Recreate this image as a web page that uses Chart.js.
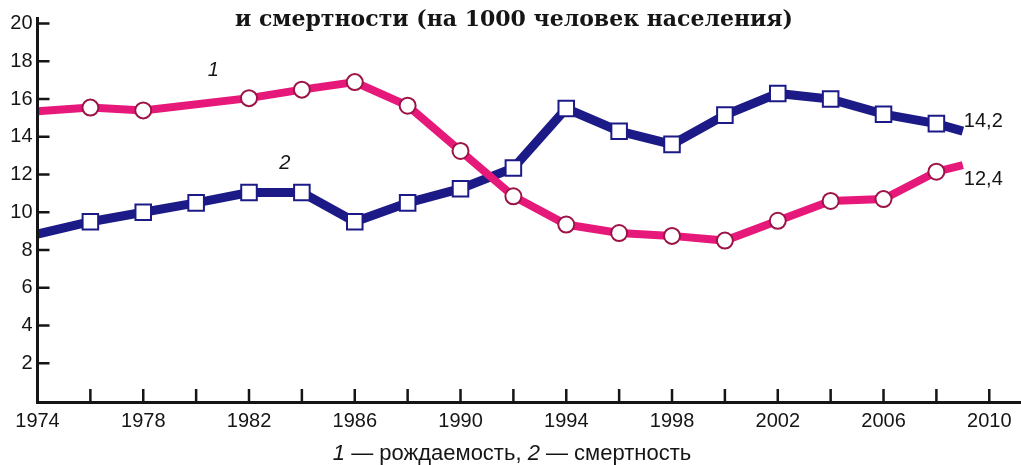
<!DOCTYPE html>
<html>
<head>
<meta charset="utf-8">
<script src="https://cdn.jsdelivr.net/npm/chart.js@4.4.1/dist/chart.umd.min.js"></script>
<style>
  html, body { margin: 0; padding: 0; background: #fff; }
  #wrap { width: 1021px; height: 465px; position: relative; }
</style>
</head>
<body>
<div id="wrap"><canvas id="myChart" width="1021" height="465"></canvas></div>
<script>
// 1 - рождаемость (birth rate), 2 - смертность (death rate), per 1000
const years_birth = [1974, 1976, 1978, 1982, 1984, 1986, 1988, 1990, 1992, 1994,
    1996, 1998, 2000, 2002, 2004, 2006, 2008, 2009];
const birth_rate = [15.35, 15.55, 15.4, 16.05, 16.5, 16.9, 15.65, 13.25, 10.85, 9.35,
    8.9, 8.75, 8.5, 9.55, 10.6, 10.7, 12.15, 12.5];

const years_death = [1974, 1976, 1978, 1980, 1982, 1984, 1986, 1988, 1990, 1992,
    1994, 1996, 1998, 2000, 2002, 2004, 2006, 2008, 2009];
const death_rate = [8.85, 9.5, 10.0, 10.5, 11.05, 11.05, 9.5, 10.5, 11.25, 12.35,
    15.5, 14.3, 13.6, 15.15, 16.3, 16.0, 15.2, 14.7, 14.3];

const x_label_years = [1974, 1978, 1982, 1986, 1990, 1994, 1998, 2002, 2006, 2010];
const x_tick_years = [1976, 1978, 1980, 1982, 1984, 1986, 1988, 1990, 1992, 1994,
    1996, 1998, 2000, 2002, 2004, 2006, 2008, 2010];
const y_ticks = [2, 4, 6, 8, 10, 12, 14, 16, 18, 20];

const end_labels = ['12,4', '14,2'];
const series_numbers = ['1', '2'];
const title_text = 'и смертности (на 1000 человек населения)';

const SANS = '"Liberation Sans", Arial, sans-serif';

const toPoints = function(xs, ys) {
    return xs.map(function(x, i) { return { x: x, y: ys[i] }; });
};
// no marker on the first and the last point
const markerRadius = function(n, r) {
    return Array.from({ length: n }, function(_, i) { return (i === 0 || i === n - 1) ? 0 : r; });
};

const extras = {
    id: 'extras',
    afterDraw(chart) {
        const ctx = chart.ctx;
        const xs = chart.scales.x, ys = chart.scales.y;
        const area = chart.chartArea;
        ctx.save();
        ctx.strokeStyle = '#151515';
        ctx.lineCap = 'butt';

        // axes
        ctx.lineWidth = 3;
        ctx.beginPath();
        ctx.moveTo(area.left, area.top);
        ctx.lineTo(area.left, area.bottom + 1.5);
        ctx.lineTo(area.right, area.bottom + 1.5);
        ctx.stroke();

        // tick marks pointing inside
        ctx.lineWidth = 2.5;
        ctx.beginPath();
        y_ticks.forEach(function(v) {
            const py = ys.getPixelForValue(v);
            ctx.moveTo(area.left, py);
            ctx.lineTo(area.left + 12, py);
        });
        x_tick_years.forEach(function(v) {
            const px = xs.getPixelForValue(v);
            ctx.moveTo(px, area.bottom);
            ctx.lineTo(px, area.bottom - 12);
        });
        ctx.stroke();

        // end values
        ctx.fillStyle = '#151515';
        ctx.font = '20px ' + SANS;
        ctx.textAlign = 'left';
        ctx.textBaseline = 'middle';
        chart.data.datasets.forEach(function(ds, i) {
            const last = ds.data[ds.data.length - 1];
            const px = xs.getPixelForValue(last.x);
            const py = ys.getPixelForValue(last.y);
            ctx.fillText(end_labels[i], px + 1, py + (i === 0 ? 14 : -10));
        });

        // series numbers
        ctx.font = 'italic 20px ' + SANS;
        ctx.textAlign = 'center';
        ctx.fillText(series_numbers[0], xs.getPixelForValue(1980.65), ys.getPixelForValue(17.5));
        ctx.fillText(series_numbers[1], xs.getPixelForValue(1983.35), ys.getPixelForValue(12.6));

        // caption
        const parts = [
            ['italic 22px ' + SANS, '1'],
            ['22px ' + SANS, ' — рождаемость, '],
            ['italic 22px ' + SANS, '2'],
            ['22px ' + SANS, ' — смертность']
        ];
        let total = 0;
        parts.forEach(function(p) { ctx.font = p[0]; total += ctx.measureText(p[1]).width; });
        let cx = 512 - total / 2;
        ctx.textAlign = 'left';
        parts.forEach(function(p) {
            ctx.font = p[0];
            ctx.fillText(p[1], cx, 454);
            cx += ctx.measureText(p[1]).width;
        });

        // title
        ctx.font = 'bold 22px "DejaVu Serif", "Liberation Serif", serif';
        ctx.textAlign = 'center';
        ctx.fillText(title_text, 514, 20);
        ctx.restore();
    }
};

const canvas = document.getElementById('myChart');
const ctx = canvas.getContext('2d');
const config = {
    type: 'line',
    data: {
        datasets: [{
            label: 'рождаемость',
            data: toPoints(years_birth, birth_rate),
            borderColor: '#e6197b',
            borderWidth: 8,
            pointStyle: 'circle',
            pointRadius: markerRadius(years_birth.length, 8),
            pointBackgroundColor: '#ffffff',
            pointBorderColor: '#9c1346',
            pointBorderWidth: 2,
            tension: 0
        }, {
            label: 'смертность',
            data: toPoints(years_death, death_rate),
            borderColor: '#1b1a86',
            borderWidth: 9,
            pointStyle: 'rect',
            pointRadius: markerRadius(years_death.length, 11),
            pointBackgroundColor: '#ffffff',
            pointBorderColor: '#1b1a86',
            pointBorderWidth: 2,
            tension: 0
        }]
    },
    options: {
        responsive: false,
        animation: false,
        layout: { padding: { top: 12, right: 0, bottom: 0, left: 0 } },
        plugins: {
            legend: { display: false },
            tooltip: { enabled: false }
        },
        scales: {
            x: {
                type: 'linear',
                min: 1974,
                max: 2011.2,
                grid: { display: false, drawTicks: false },
                border: { display: false },
                afterBuildTicks: function(scale) {
                    scale.ticks = x_label_years.map(function(v) { return { value: v }; });
                },
                afterFit: function(scale) { scale.height = 64; },
                ticks: {
                    padding: 8,
                    maxRotation: 0,
                    autoSkip: false,
                    color: '#151515',
                    font: { family: SANS, size: 20 },
                    callback: function(v) { return String(v); }
                }
            },
            y: {
                min: 0,
                max: 20.35,
                grid: { display: false, drawTicks: false },
                border: { display: false },
                afterBuildTicks: function(scale) {
                    scale.ticks = y_ticks.map(function(v) { return { value: v }; });
                },
                afterFit: function(scale) { scale.width = 37.5; },
                ticks: {
                    padding: 5,
                    color: '#151515',
                    font: { family: SANS, size: 20 },
                    callback: function(v) { return String(v); }
                }
            }
        }
    },
    plugins: [extras]
};
const myChart = new Chart(ctx, config);
</script>
</body>
</html>
